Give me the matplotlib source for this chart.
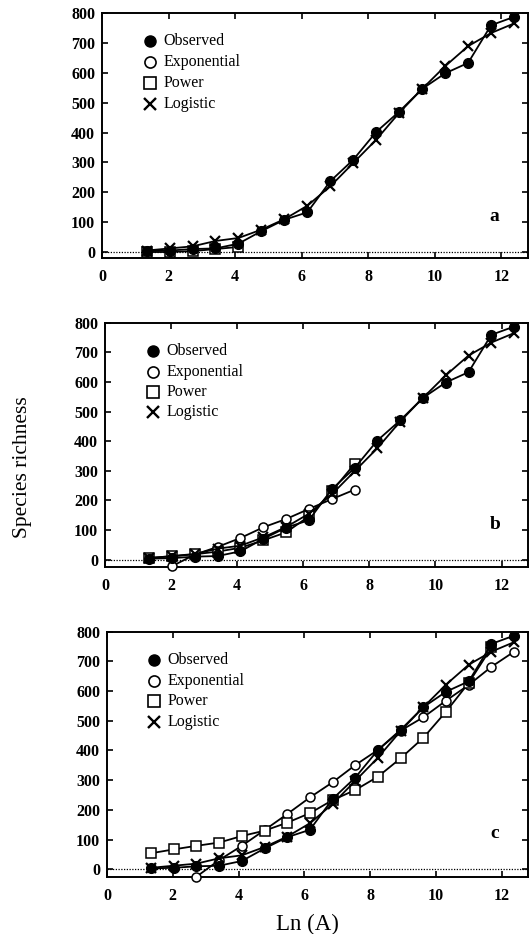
import matplotlib
matplotlib.use("Agg")
import matplotlib.pyplot as plt

# ---- data ----
ln_area = [1.34, 2.03, 2.72, 3.41, 4.10, 4.79, 5.48, 6.17, 6.86, 7.55,
           8.24, 8.93, 9.62, 10.31, 11.00, 11.69, 12.38]
observed = [3, 5, 10, 12, 28, 70, 108, 133, 237, 309, 402, 470, 546, 598, 633, 759, 787]
logistic = [5, 12, 19, 37, 47, 75, 110, 155, 220, 298, 376, 466, 546, 622, 689, 733, 765]

# panel a
power_a_x = [1.34, 2.03, 2.72, 3.41, 4.10]
power_a = [0, 0, 3, 10, 17]

# panel b
expo_b_x = [2.03, 2.72, 3.41, 4.10, 4.79, 5.48, 6.17, 6.86, 7.55]
expo_b = [-22, 17, 43, 73, 109, 137, 171, 204, 236]
power_b_x = [1.34, 2.03, 2.72, 3.41, 4.10, 4.79, 5.48, 6.17, 6.86, 7.55]
power_b = [6, 11, 18, 27, 40, 65, 92, 146, 230, 323]

# panel c
expo_c_x = [2.72, 3.41, 4.10, 4.79, 5.48, 6.17, 6.86, 7.55, 8.24, 8.93,
            9.62, 10.31, 11.00, 11.69, 12.38]
expo_c = [-25, 31, 79, 132, 186, 242, 293, 351, 402, 467, 512, 568, 621, 682, 733]
power_c_x = [1.34, 2.03, 2.72, 3.41, 4.10, 4.79, 5.48, 6.17, 6.86, 7.55,
             8.24, 8.93, 9.62, 10.31, 11.00, 11.69]
power_c = [54, 67, 79, 90, 112, 130, 157, 189, 233, 267, 312, 374, 443, 531, 628, 747]

panel_labels = ["a", "b", "c"]
legend_names = ["Observed", "Exponential", "Power", "Logistic"]
x_ticks = [0, 2, 4, 6, 8, 10, 12]
y_ticks = [0, 100, 200, 300, 400, 500, 600, 700, 800]

plt.rcParams['font.family'] = ['Liberation Serif', 'DejaVu Serif']

fig = plt.figure(figsize=(5.30, 9.34), dpi=100)

rects = [
    [102/530, 1-258/934, 426/530, (258-13)/934],
    [105/530, 1-566.7/934, 423/530, (566.7-322.7)/934],
    [107/530, 1-876.7/934, 421/530, (876.7-631.7)/934],
]
ylims = [(-20, 800), (-24, 800), (-25, 800)]

panels = [
    (None, None, power_a_x, power_a),
    (expo_b_x, expo_b, power_b_x, power_b),
    (expo_c_x, expo_c, power_c_x, power_c),
]

ms = 6.5
lw = 1.3
for i, rect in enumerate(rects):
    ax = fig.add_axes(rect)
    ex, ey, px, py = panels[i]
    ax.axhline(0, color='black', linestyle=(0, (1, 1.2)), linewidth=0.9, zorder=1)
    if ex is not None:
        ax.plot(ex, ey, color='black', lw=lw, marker='o', ms=ms,
                mfc='white', mec='black', mew=1.1, zorder=3, clip_on=False)
    ax.plot(px, py, color='black', lw=lw, marker='s', ms=ms,
            mfc='white', mec='black', mew=1.1, zorder=3)
    ax.plot(ln_area, logistic, color='black', lw=lw, marker='x', ms=ms,
            mew=1.6, zorder=4)
    ax.plot(ln_area, observed, color='black', lw=lw, marker='o', ms=ms + 0.5,
            mfc='black', mec='black', zorder=5)

    ax.set_xlim(0, 12.8)
    ax.set_ylim(*ylims[i])
    ax.set_xticks(x_ticks)
    ax.set_yticks(y_ticks)
    ax.set_xticklabels([str(t) for t in x_ticks], fontsize=11.5, fontweight='bold')
    ax.set_yticklabels([str(t) for t in y_ticks], fontsize=11.5, fontweight='bold')
    ax.tick_params(direction='in', top=True, right=True, length=4, width=1.2)
    ax.tick_params(axis='x', pad=8)
    ax.tick_params(axis='y', pad=5)
    for s in ax.spines.values():
        s.set_linewidth(1.4)

    ax.text(11.8, 120, panel_labels[i], fontsize=14, fontweight='bold',
            ha='center', va='center')

    # legend built manually
    leg_y = [705, 635, 567, 497]
    styles = [dict(marker='o', mfc='black', mec='black'),
              dict(marker='o', mfc='white', mec='black', mew=1.2),
              dict(marker='s', mfc='white', mec='black', mew=1.2),
              dict(marker='x', mec='black', mew=1.7)]
    for name, yy, st in zip(legend_names, leg_y, styles):
        ax.plot([1.44], [yy], ls='none', ms=8, color='black', **st)
        ax.text(1.85, yy, name, fontsize=11.5, ha='left', va='center')

fig.text(23/530, 1-467/934, "Species richness", rotation=90, fontsize=15.5,
         ha='center', va='center')
fig.text(307/530, 1-924/934, "Ln (A)", fontsize=16.5, ha='center', va='center')

fig.savefig("out.png", dpi=100)
